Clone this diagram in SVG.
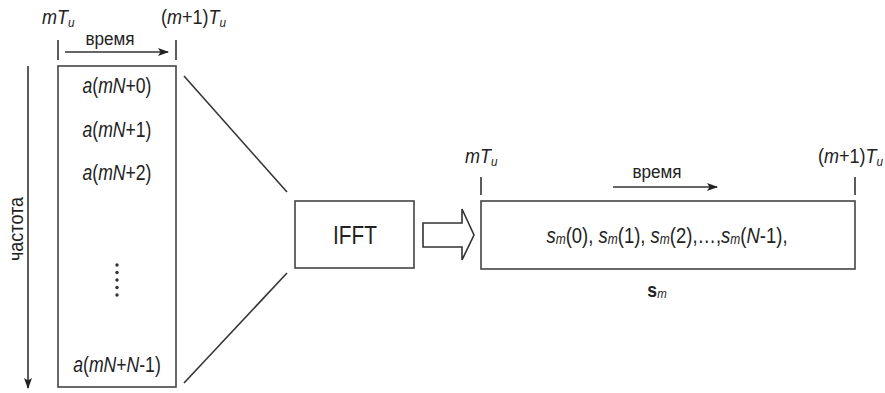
<svg xmlns="http://www.w3.org/2000/svg" width="885" height="393" viewBox="0 0 885 393">
<defs>
<marker id="ah" markerWidth="11" markerHeight="8" refX="10" refY="4" orient="auto" markerUnits="userSpaceOnUse">
<path d="M0,0 L11,4 L0,8 L2.5,4 Z" fill="#222"/>
</marker>
<style>
text{font-family:"Liberation Sans",Arial,sans-serif;fill:#222}
.ln{stroke:#333;stroke-width:1.6;fill:none}
.box{stroke:#444;stroke-width:1.6;fill:#fff}
.it{font-style:italic}
.sub{font-size:0.65em;font-style:italic}
</style>
</defs>
<rect width="885" height="393" fill="#fff"/>
<g id="conn">
<line class="ln" x1="58" y1="40" x2="58" y2="60"/>
<line class="ln" x1="176" y1="40" x2="176" y2="60"/>
<line class="ln" x1="65" y1="52" x2="168" y2="52" marker-end="url(#ah)"/>
<line class="ln" x1="28" y1="66" x2="28" y2="388" marker-end="url(#ah)"/>
<line class="ln" x1="184" y1="76" x2="287" y2="192"/>
<line class="ln" x1="184" y1="383" x2="287" y2="273"/>
<line class="ln" x1="481" y1="177" x2="481" y2="195"/>
<line class="ln" x1="855" y1="177" x2="855" y2="195"/>
<line class="ln" x1="613" y1="187" x2="717" y2="187" marker-end="url(#ah)"/>
<path class="ln" d="M423,223 L462,223 L462,209 L474,235 L462,260 L462,247 L423,247 Z" stroke-width="1.4"/>
</g>
<g id="labels">
<text transform="translate(42,24) scale(0.9,1)" font-size="20"><tspan class="it">mT</tspan><tspan class="sub" dy="3">u</tspan></text>
<text transform="translate(161,24) scale(0.9,1)" font-size="20">(<tspan class="it">m</tspan>+1)<tspan class="it">T</tspan><tspan class="sub" dy="3">u</tspan></text>
<text transform="translate(110,45) scale(0.9,1)" font-size="19" text-anchor="middle">время</text>
<text transform="translate(23,229) rotate(-90) scale(0.9,1)" font-size="20" text-anchor="middle">частота</text>
<text transform="translate(465,163) scale(0.9,1)" font-size="20"><tspan class="it">mT</tspan><tspan class="sub" dy="3">u</tspan></text>
<text transform="translate(818,163) scale(0.9,1)" font-size="20">(<tspan class="it">m</tspan>+1)<tspan class="it">T</tspan><tspan class="sub" dy="3">u</tspan></text>
<text transform="translate(657,178) scale(0.9,1)" font-size="19" text-anchor="middle">время</text>
</g>
<g id="freq-box">
<rect class="box" x="58" y="66" width="118" height="321"/>
<text transform="translate(117,93) scale(0.8,1)" font-size="22" text-anchor="middle"><tspan class="it">a</tspan>(<tspan class="it">mN</tspan>+0)</text>
<text transform="translate(117,137) scale(0.8,1)" font-size="22" text-anchor="middle"><tspan class="it">a</tspan>(<tspan class="it">mN</tspan>+1)</text>
<text transform="translate(117,180) scale(0.8,1)" font-size="22" text-anchor="middle"><tspan class="it">a</tspan>(<tspan class="it">mN</tspan>+2)</text>
<g fill="#333">
<circle cx="117" cy="265" r="1.7"/><circle cx="117" cy="272.5" r="1.7"/><circle cx="117" cy="280" r="1.7"/><circle cx="117" cy="287.5" r="1.7"/><circle cx="117" cy="295" r="1.7"/>
</g>
<text transform="translate(117,372) scale(0.8,1)" font-size="22" text-anchor="middle"><tspan class="it">a</tspan>(<tspan class="it">mN</tspan>+<tspan class="it">N</tspan>-1)</text>
</g>
<g id="ifft">
<rect class="box" x="295" y="201" width="119" height="67"/>
<text transform="translate(355,244) scale(0.8,1)" font-size="26" text-anchor="middle">IFFT</text>
</g>
<g id="time-box">
<rect class="box" x="481" y="201" width="374" height="68"/>
<text transform="translate(667,243) scale(0.84,1)" font-size="22" text-anchor="middle"><tspan class="it">s</tspan><tspan class="sub" dy="1">m</tspan><tspan dy="-1">(0), </tspan><tspan class="it">s</tspan><tspan class="sub" dy="1">m</tspan><tspan dy="-1">(1), </tspan><tspan class="it">s</tspan><tspan class="sub" dy="1">m</tspan><tspan dy="-1">(2),…,</tspan><tspan class="it">s</tspan><tspan class="sub" dy="1">m</tspan><tspan dy="-1">(</tspan><tspan class="it">N</tspan>-1),</text>
<text transform="translate(657,297) scale(0.84,1)" font-size="21" text-anchor="middle"><tspan font-weight="bold">s</tspan><tspan class="sub" dy="1">m</tspan></text>
</g>
</svg>
